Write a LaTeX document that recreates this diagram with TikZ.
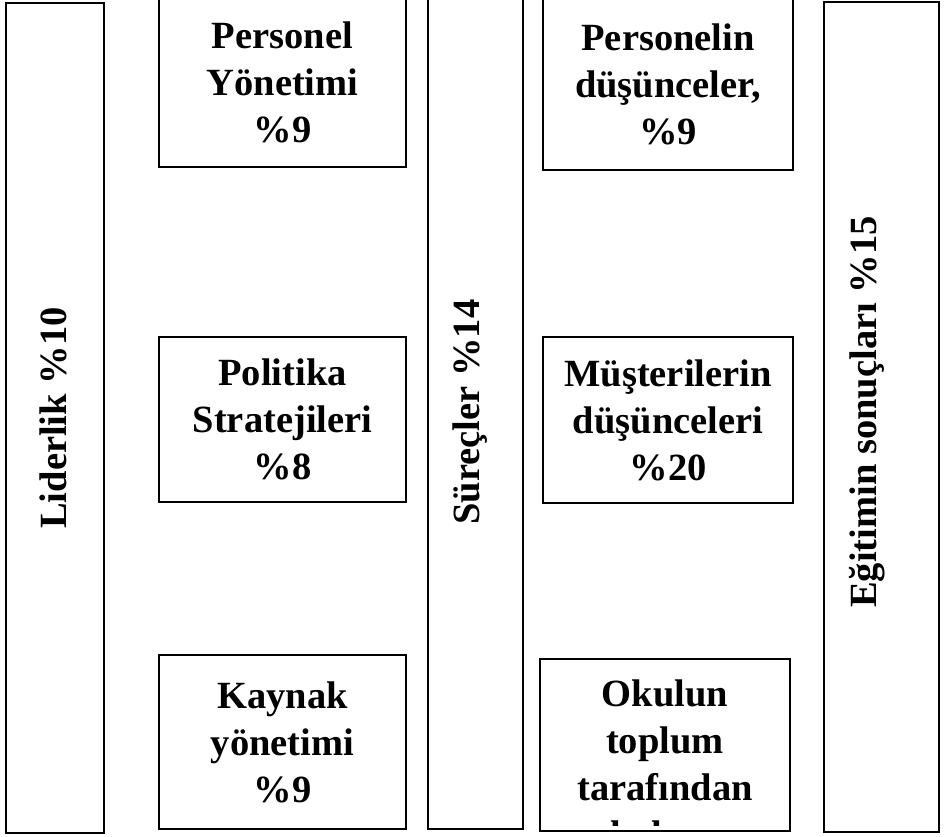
\documentclass[tikz,border=0pt]{standalone}
\usepackage{fontspec}
\setmainfont{Liberation Serif}
\usepackage{tikz}
\usetikzlibrary{positioning}

\begin{document}
\begin{tikzpicture}[x=1pt, y=-1pt,
    box/.style={draw, line width=1.3pt, align=center, inner sep=0pt,
        font=\bfseries\fontsize{38.5}{47}\selectfont},
    bar/.style={draw, line width=1.3pt, inner sep=0pt},
    barlabel/.style={rotate=90, font=\bfseries\fontsize{38.5}{47}\selectfont}]
    \useasboundingbox (0,0) rectangle (944,836);
    % Vertical bars
    \node[bar, minimum width=98, minimum height=830] (liderlik) at (55,418) {};
    \node[bar, minimum width=95, minimum height=831] (surecler) at (475.5,413.5) {};
    \node[bar, minimum width=115, minimum height=830] (egitim) at (881.5,417) {};
    \node[barlabel] (liderlikText) at (53,418) {Liderlik \%10};
    \node[barlabel] (sureclerText) at (470,412) {Süreçler \%14};
    \node[barlabel] (egitimText) at (867,412) {Eğitimin sonuçları \%15};
    % Left column
    \node[box, minimum width=247, minimum height=169] (personel) at (282.5,82.5) {Personel\\Yönetimi\\\%9};
    \node[box, minimum width=247, minimum height=165] (politika) at (282.5,419.5) {Politika\\Stratejileri\\\%8};
    \node[box, minimum width=247, minimum height=174] (kaynak) at (282.5,742) {Kaynak\\yönetimi\\\%9};
    % Right column
    \node[box, minimum width=250, minimum height=172] (dusunce) at (668,84) {Personelin\\düşünceler,\\\%9};
    \node[box, minimum width=250, minimum height=166] (musteri) at (668,420) {Müşterilerin\\düşünceleri\\\%20};
    \node[box, minimum width=250, minimum height=172] (toplum) at (665,745) {};
    \begin{scope}
        % text frame ends just above the box border
        \clip (toplum.north west) rectangle ([yshift=6pt]toplum.south east);
        \node[box, draw=none] (toplumText) at (665,768) {Okulun\\toplum\\tarafından\\algılanışı};
    \end{scope}
\end{tikzpicture}
\end{document}
